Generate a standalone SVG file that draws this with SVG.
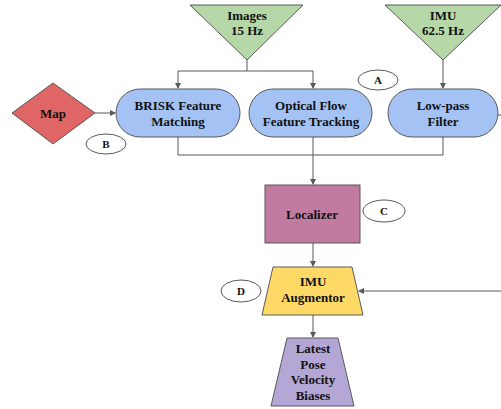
<svg xmlns="http://www.w3.org/2000/svg" width="501" height="409" viewBox="0 0 501 409">
<defs>
<marker id="ah" markerWidth="6" markerHeight="6" refX="5" refY="3" orient="auto" markerUnits="userSpaceOnUse">
<path d="M0,0 L6,3 L0,6 z" fill="#595959"/>
</marker>
<style>
.t{font-family:"Liberation Serif","Times New Roman",serif;font-weight:bold;font-size:13px;fill:#111;text-anchor:middle}
.s{font-size:11px}
.n{stroke:#595959;stroke-width:1}
.c{fill:none;stroke:#595959;stroke-width:1}
.e{fill:#fff;stroke:#595959;stroke-width:1}
</style>
</defs>
<rect width="501" height="409" fill="#fff"/>
<g id="connectors">
<path class="c" d="M247,60 V71 H178 V88" marker-end="url(#ah)"/>
<path class="c" d="M247,71 H313 V88" marker-end="url(#ah)"/>
<path class="c" d="M443,60 V88" marker-end="url(#ah)"/>
<path class="c" d="M95,113 H115" marker-end="url(#ah)"/>
<path class="c" d="M178,137 V155 H443 V137"/>
<path class="c" d="M313,137 V184" marker-end="url(#ah)"/>
<path class="c" d="M313,243 V266" marker-end="url(#ah)"/>
<path class="c" d="M313,315 V337" marker-end="url(#ah)"/>
<path class="c" d="M497,115 H502"/>
<path class="c" d="M502,291 H359" marker-end="url(#ah)"/>
</g>
<g id="images">
<polygon class="n" points="190,5 303,5 247,60" fill="#b6d7a8"/>
<text class="t" x="247" y="20">Images</text>
<text class="t" x="247" y="35">15 Hz</text>
</g>
<g id="imu">
<polygon class="n" points="385,5 501,5 443,60" fill="#b6d7a8"/>
<text class="t" x="443" y="20">IMU</text>
<text class="t" x="443" y="35">62.5 Hz</text>
</g>
<g id="map">
<polygon class="n" points="12,113 53,83 95,113 53,144" fill="#e06666"/>
<text class="t" x="53" y="118">Map</text>
</g>
<g id="brisk">
<rect class="n" x="116" y="89" width="124" height="48" rx="24" fill="#a4c2f4"/>
<text class="t" x="178" y="110">BRISK Feature</text>
<text class="t" x="178" y="126">Matching</text>
</g>
<g id="optical">
<rect class="n" x="249" y="89" width="123" height="48" rx="24" fill="#a4c2f4"/>
<text class="t" x="311" y="110">Optical Flow</text>
<text class="t" x="311" y="126">Feature Tracking</text>
</g>
<g id="lowpass">
<rect class="n" x="388" y="89" width="110" height="48" rx="24" fill="#a4c2f4"/>
<text class="t" x="443" y="110">Low-pass</text>
<text class="t" x="443" y="126">Filter</text>
</g>
<g id="labelA">
<ellipse class="e" cx="378" cy="80" rx="20" ry="10"/>
<text class="t s" x="378" y="84">A</text>
</g>
<g id="labelB">
<ellipse class="e" cx="106" cy="144" rx="20" ry="10"/>
<text class="t s" x="106" y="148">B</text>
</g>
<g id="localizer">
<rect class="n" x="265" y="185" width="95" height="58" fill="#c27ba0"/>
<text class="t" x="312" y="219">Localizer</text>
</g>
<g id="labelC">
<ellipse class="e" cx="384" cy="211" rx="21" ry="11"/>
<text class="t s" x="384" y="215">C</text>
</g>
<g id="augmentor">
<polygon class="n" points="273,267 352,267 363,315 262,315" fill="#ffd966"/>
<text class="t" x="313" y="286">IMU</text>
<text class="t" x="313" y="302">Augmentor</text>
</g>
<g id="labelD">
<ellipse class="e" cx="241" cy="291" rx="20" ry="11"/>
<text class="t s" x="241" y="295">D</text>
</g>
<g id="latest">
<polygon class="n" points="287,338 338,338 354,406 271,406" fill="#b4a7d6"/>
<text class="t" x="313" y="353">Latest</text>
<text class="t" x="313" y="369">Pose</text>
<text class="t" x="313" y="384">Velocity</text>
<text class="t" x="313" y="400">Biases</text>
</g>
</svg>
